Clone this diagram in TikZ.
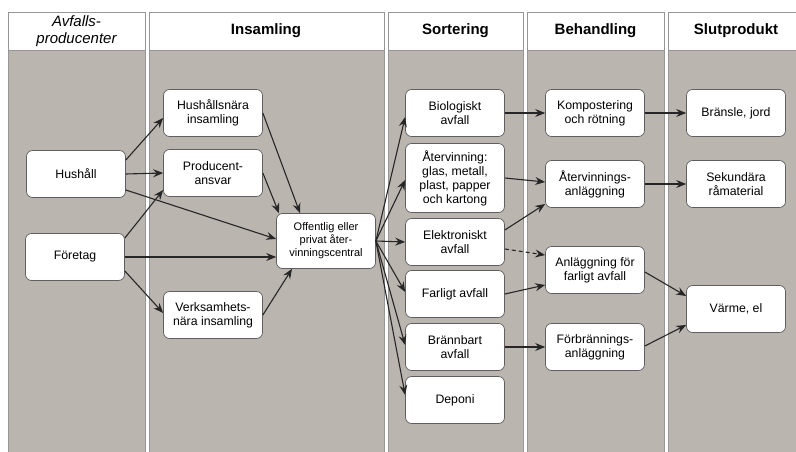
\documentclass[tikz,border=0pt]{standalone}
\usepackage{fontspec}
\setmainfont{Liberation Sans}
\usetikzlibrary{arrows.meta}
\definecolor{lanebg}{RGB}{187,181,176}
\definecolor{laneline}{RGB}{150,150,150}
\definecolor{boxline}{RGB}{95,95,95}

\begin{document}
\begin{tikzpicture}[x=1pt,y=-1pt,>={Stealth[length=10pt,width=8pt,inset=3.5pt]}]
  \tikzstyle{lane}=[fill=lanebg, draw=laneline, line width=0.6pt]
  \tikzstyle{lanehead}=[fill=white, draw=laneline, line width=0.6pt]
  \tikzstyle{head}=[font=\fontsize{15}{17}\selectfont\bfseries, align=center]
  \tikzstyle{box}=[draw=boxline, fill=white, rounded corners=6pt, line width=0.7pt,
    minimum width=99pt, minimum height=47pt, align=center, inner sep=2pt,
    font=\fontsize{12.3}{14}\selectfont]
  \tikzstyle{flow}=[->, line width=1.1pt, black!85]

  \useasboundingbox (0,0) rectangle (796,452);
  \fill[white] (0,0) rectangle (796,452);

  % Lanes
  \draw[lane] (8,12) rectangle (145,452);
  \draw[lane] (149,12) rectangle (384,452);
  \draw[lane] (388,12) rectangle (523,452);
  \draw[lane] (527,12) rectangle (664,452);
  \draw[lane] (668,12) rectangle (800,452);
  \draw[lanehead] (8,12) rectangle (145,50);
  \draw[lanehead] (149,12) rectangle (384,50);
  \draw[lanehead] (388,12) rectangle (523,50);
  \draw[lanehead] (527,12) rectangle (664,50);
  \draw[lanehead] (668,12) rectangle (800,50);

  % Lane titles
  \node[head, font=\fontsize{15}{17}\selectfont\itshape] (hProd) at (76.5,31) {Avfalls-\\producenter};
  \node[head] (hInsam) at (266,31) {Insamling};
  \node[head] (hSort) at (455.5,31) {Sortering};
  \node[head] (hBeh) at (595.5,31) {Behandling};
  \node[head] (hSlut) at (736,31) {Slutprodukt};

  % Producers
  \node[box] (hushall) at (76,174) {Hushåll};
  \node[box] (foretag) at (75,257) {Företag};

  % Collection
  \node[box] (husnara) at (213,113) {Hushållsnära\\insamling};
  \node[box] (prodansvar) at (213,173) {Producent-\\ansvar};
  \node[box] (verknara) at (213,315) {Verksamhets-\\nära insamling};
  \node[box, minimum height=55pt, font=\fontsize{11}{13}\selectfont] (central) at (326,241) {Offentlig eller\\privat åter-\\vinningscentral};

  % Sorting
  \node[box] (bio) at (455,113) {Biologiskt\\avfall};
  \node[box, minimum height=69pt] (atervinn) at (455,178) {Återvinning:\\glas, metall,\\plast, papper\\och kartong};
  \node[box] (elektro) at (455,242) {Elektroniskt\\avfall};
  \node[box] (farligt) at (455,294) {Farligt avfall};
  \node[box] (brannbart) at (455,347) {Brännbart\\avfall};
  \node[box] (deponi) at (455,400) {Deponi};

  % Treatment
  \node[box] (kompost) at (595,113) {Kompostering\\och rötning};
  \node[box] (atervanl) at (595,184) {Återvinnings-\\anläggning};
  \node[box] (farliganl) at (595,270) {Anläggning för\\farligt avfall};
  \node[box] (forbranning) at (595,347) {Förbrännings-\\anläggning};

  % End products
  \node[box] (bransle) at (736,113) {Bränsle, jord};
  \node[box] (sekundar) at (736,184) {Sekundära\\råmaterial};
  \node[box] (varme) at (736,309) {Värme, el};

  % Producers -> collection
  \draw[flow] ([yshift=14pt]hushall.east) -- ([yshift=-5pt]husnara.west);
  \draw[flow] (hushall.east) -- (prodansvar.west);
  \draw[flow] ([yshift=-16pt]hushall.east) -- ([yshift=2pt]central.west);
  \draw[flow] ([yshift=19pt]foretag.east) -- ([yshift=-17pt]prodansvar.west);
  \draw[flow] (foretag.east) -- ([yshift=-16pt]central.west);
  \draw[flow] ([yshift=-14pt]foretag.east) -- ([yshift=2pt]verknara.west);

  % Collection -> central
  \draw[flow] (husnara.east) -- ([xshift=-26pt]central.north);
  \draw[flow] (prodansvar.east) -- ([xshift=-47pt]central.north);
  \draw[flow] (verknara.east) -- ([xshift=-34pt]central.south);

  % Central -> sorting
  \draw[flow] (central.east) -- ([yshift=-4pt]bio.west);
  \draw[flow] (central.east) -- ([yshift=-2pt]atervinn.west);
  \draw[flow] (central.east) -- (elektro.west);
  \draw[flow] (central.east) -- ([yshift=2pt]farligt.west);
  \draw[flow] (central.east) -- ([yshift=2pt]brannbart.west);
  \draw[flow] (central.east) -- ([yshift=5pt]deponi.west);

  % Sorting -> treatment
  \draw[flow] (bio.east) -- (kompost.west);
  \draw[flow] (atervinn.east) -- ([yshift=2pt]atervanl.west);
  \draw[flow] ([yshift=12pt]elektro.east) -- ([yshift=-20pt]atervanl.west);
  \draw[flow, dash pattern=on 4pt off 3pt] ([yshift=-7pt]elektro.east) -- ([yshift=15pt]farliganl.west);
  \draw[flow] (farligt.east) -- ([yshift=-15pt]farliganl.west);
  \draw[flow] (brannbart.east) -- (forbranning.west);

  % Treatment -> end products
  \draw[flow] (kompost.east) -- (bransle.west);
  \draw[flow] (atervanl.east) -- (sekundar.west);
  \draw[flow] ([yshift=-2pt]farliganl.east) -- ([yshift=13pt]varme.west);
  \draw[flow] ([yshift=1pt]forbranning.east) -- ([yshift=-16pt]varme.west);
\end{tikzpicture}
\end{document}
